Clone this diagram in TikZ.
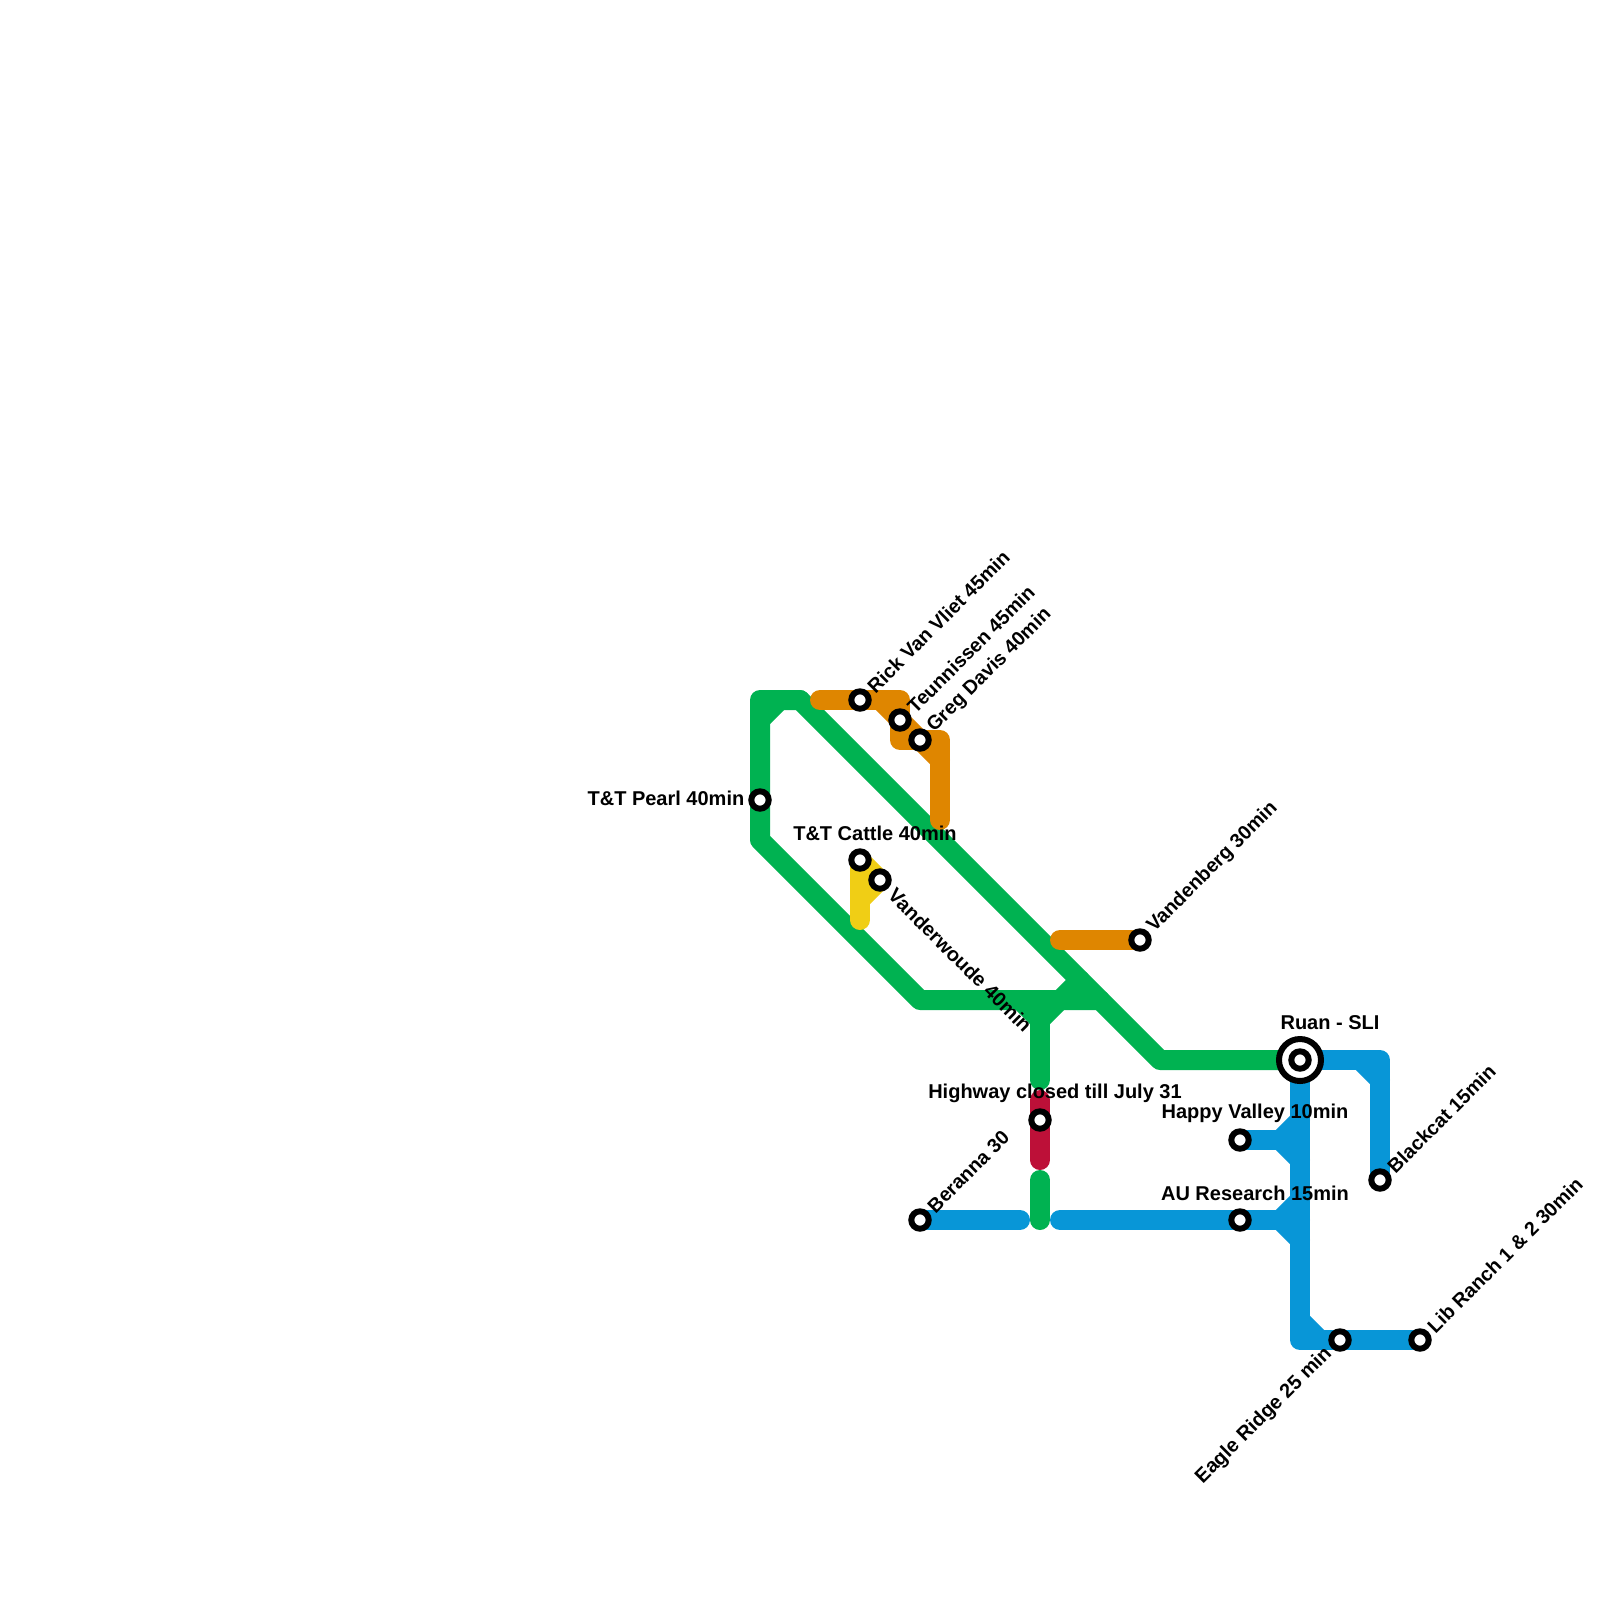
\documentclass[tikz,border=0pt]{standalone}
\usepackage{fontspec}
\setmainfont{Liberation Sans}
\usetikzlibrary{arrows,positioning}
\pgfdeclarelayer{background}
\pgfsetlayers{background,main}
\definecolor{linegreen}{HTML}{00B251}
\definecolor{lineorange}{HTML}{DF8600}
\definecolor{lineblue}{HTML}{0896D7}
\definecolor{lineyellow}{HTML}{F0CE15}
\definecolor{linered}{HTML}{BD1038}
\tikzset{
  route/.style={line width=0.2cm,line cap=round,line join=round},
  stop/.style={circle,draw=black,fill=white,line width=0.06cm,minimum size=0.174cm,inner sep=0pt,outer sep=0pt},
  hub/.style={circle,draw=black,fill=white,line width=0.06cm,minimum size=0.42cm,inner sep=0pt,outer sep=0pt},
  stoptext/.style={font=\bfseries\fontsize{5.69}{6.8}\selectfont,text=black,inner ysep=0pt,inner xsep=0.15cm},
  riseright/.style={stoptext,font=\bfseries\fontsize{5.6}{6.8}\selectfont,rotate=45,anchor=west,inner xsep=0.145cm},
  fallright/.style={stoptext,rotate=-45,anchor=west,inner xsep=0.16cm},
  riseleft/.style={stoptext,rotate=45,anchor=east},
  overhead/.style={stoptext,anchor=center}
}
\begin{document}
\begin{tikzpicture}[x=0.2cm,y=-0.2cm]
   \useasboundingbox (0,0) rectangle (80,80);
   % stops
   \node[stop] (pearl) at (38,40) {};
   \node[stop] (rick) at (43,35) {};
   \node[stop] (teun) at (45,36) {};
   \node[stop] (greg) at (46,37) {};
   \node[stop] (cattle) at (43,43) {};
   \node[stop] (vander) at (44,44) {};
   \node[stop] (vandenb) at (57,47) {};
   \node[stop] (highway) at (52,56) {};
   \node[hub] (ruanhub) at (65,53) {};
   \node[stop] (ruan) at (65,53) {};
   \node[stop] (happy) at (62,57) {};
   \node[stop] (auresearch) at (62,61) {};
   \node[stop] (blackcat) at (69,59) {};
   \node[stop] (beranna) at (46,61) {};
   \node[stop] (eagle) at (67,67) {};
   \node[stop] (libranch) at (71,67) {};
   % bends and free ends
   \coordinate (g1) at (40,35);
   \coordinate (g2) at (38,35);
   \coordinate (g3) at (38,42);
   \coordinate (g4) at (46,50);
   \coordinate (g5) at (55,50);
   \coordinate (g6) at (58,53);
   \coordinate (g7) at (52,51);
   \coordinate (g8) at (52,54);
   \coordinate (g9) at (54,49);
   \coordinate (g10) at (52,59);
   \coordinate (g11) at (52,61);
   \coordinate (g12) at (51,50);
   \coordinate (g13) at (38,36);
   \coordinate (g14) at (39,35);
   \coordinate (o1) at (41,35);
   \coordinate (o2) at (45,35);
   \coordinate (o3) at (47,37);
   \coordinate (o4) at (47,41);
   \coordinate (o5) at (44,35);
   \coordinate (o6) at (47,38);
   \coordinate (o7) at (45,37);
   \coordinate (o8) at (53,47);
   \coordinate (y1) at (43,46);
   \coordinate (y2) at (43,45);
   \coordinate (r1) at (52,55);
   \coordinate (r2) at (52,58);
   \coordinate (b1) at (51,61);
   \coordinate (b2) at (53,61);
   \coordinate (b3) at (65,61);
   \coordinate (b4) at (65,67);
   \coordinate (b5) at (65,66);
   \coordinate (b6) at (66,67);
   \coordinate (b7) at (69,53);
   \coordinate (b8) at (68,53);
   \coordinate (b9) at (69,54);
   \coordinate (b10) at (64,57);
   \coordinate (b11) at (65,56);
   \coordinate (b12) at (65,58);
   \coordinate (b13) at (64,61);
   \coordinate (b14) at (65,60);
   \coordinate (b15) at (65,62);
   \begin{pgfonlayer}{background}
   \draw[route,linered] (r1) -- (r2);
   \begin{scope}[route,draw=linegreen]
     \draw (g1) -- (g2) -- (g3) -- (g4) -- (g5);
     \draw (g13) -- (g14);
     \draw (g1) -- (g6) -- (ruan.center);
     \draw (g7) -- (g8);
     \draw (g7) -- (g9);
     \draw (g12) -- (g7);
     \draw (g10) -- (g11);
   \end{scope}
   \begin{scope}[route,draw=lineorange]
     \draw (o1) -- (o2) -- (o7) -- (o3) -- (o4);
     \draw (o5) -- (o6);
     \draw (o8) -- (vandenb.center);
   \end{scope}
   \draw[route,lineyellow,fill=lineyellow] (cattle.center) -- (vander.center) -- (y2) -- cycle;
   \draw[route,lineyellow] (cattle.center) -- (y1);
   \begin{scope}[route,draw=lineblue]
     \draw (ruan.center) -- (b4) -- (libranch.center);
     \draw (b5) -- (b6);
     \draw (ruan.center) -- (b7) -- (blackcat.center);
     \draw (b8) -- (b9);
     \draw (happy.center) -- (b10);
     \draw (b11) -- (b10) -- (b12);
     \draw (beranna.center) -- (b1);
     \draw (b2) -- (b3);
     \draw (b14) -- (b13) -- (b15);
   \end{scope}
   \end{pgfonlayer}
   % stop names
   \node[stoptext,anchor=east,yshift=0.02cm] (pearltext) at (pearl) {T\&T Pearl 40min};
   \node[riseright] (ricktext) at (rick) {Rick Van Vliet 45min};
   \node[riseright] (teuntext) at (teun) {Teunnissen 45min};
   \node[riseright] (gregtext) at (greg) {Greg Davis 40min};
   \node[overhead] (cattletext) at (43.75,41.65) {T\&T Cattle 40min};
   \node[fallright] (vandertext) at (vander) {Vanderwoude 40min};
   \node[riseright] (vandenbtext) at (vandenb) {Vandenberg 30min};
   \node[overhead] (highwaytext) at (52.75,54.65) {Highway closed till July 31};
   \node[overhead] (ruantext) at (66.5,51.15) {Ruan - SLI};
   \node[overhead] (happytext) at (62.75,55.65) {Happy Valley 10min};
   \node[overhead] (autext) at (62.75,59.65) {AU Research 15min};
   \node[riseright] (blackcattext) at (blackcat) {Blackcat 15min};
   \node[riseright] (berannatext) at (beranna) {Beranna 30};
   \node[riseleft] (eagletext) at (eagle) {Eagle Ridge 25 min};
   \node[riseright] (libtext) at (libranch) {Lib Ranch 1 \& 2 30min};
\end{tikzpicture}
\end{document}
